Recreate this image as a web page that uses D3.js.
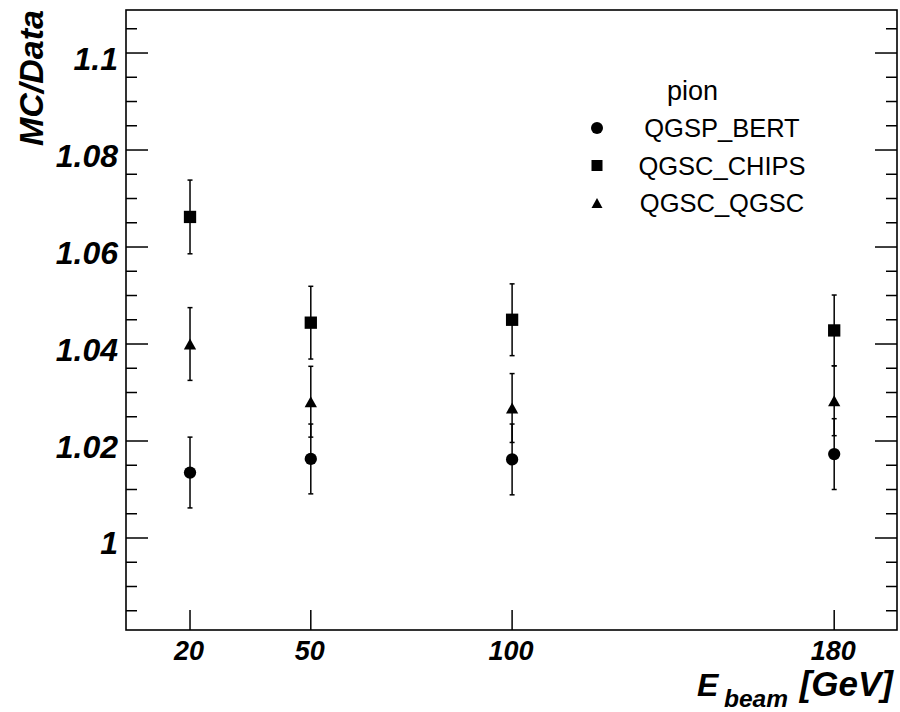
<!DOCTYPE html>
<html>
<head>
<meta charset="utf-8">
<script src="https://cdn.jsdelivr.net/npm/d3@7"></script>
<style>
  html, body { margin: 0; padding: 0; background: #fff; }
  svg { display: block; }
  text { font-family: "Liberation Sans", Arial, Helvetica, sans-serif; fill: #000; }
</style>
</head>
<body>
<svg id="chart" width="900" height="712"></svg>
<script>
// ---- data ----
const energies = [20, 50, 100, 180];
const xTickLabels = ["20", "50", "100", "180"];
const seriesNames = ["QGSP_BERT", "QGSC_CHIPS", "QGSC_QGSC"];
const seriesMarkers = ["circle", "square", "triangle"];
const bertValues  = [1.0135, 1.0163, 1.0162, 1.0173];
const bertErrors  = [0.0073, 0.0072, 0.0073, 0.0073];
const chipsValues = [1.0662, 1.0444, 1.0450, 1.0428];
const chipsErrors = [0.0076, 0.0075, 0.0074, 0.0073];
const qgscValues  = [1.0400, 1.0281, 1.0268, 1.0283];
const qgscErrors  = [0.0075, 0.0073, 0.0071, 0.0072];
const yTickLabels = ["1", "1.02", "1.04", "1.06", "1.08", "1.1"];
const legendTitle = "pion";

const seriesValues = [bertValues, chipsValues, qgscValues];
const seriesErrors = [bertErrors, chipsErrors, qgscErrors];

// ---- layout ----
const L = 126, R = 897, T = 10, B = 630;
const svg = d3.select("#chart");

const x = d3.scaleLinear().domain([4.1, 195.6]).range([L, R]);
const y = d3.scaleLinear().domain([0.98103, 1.10887]).range([B, T]);

// frame
svg.append("rect").attr("x", L).attr("y", T).attr("width", R - L).attr("height", B - T)
  .attr("fill", "none").attr("stroke", "#000").attr("stroke-width", 1.6);

// y ticks (major every 0.02, minor every 0.005), left and right
const majorY = yTickLabels.map(Number);
const minorY = d3.range(0.985, 1.1089, 0.005).map(v => +v.toFixed(3));
const ticksG = svg.append("g").attr("stroke", "#000").attr("stroke-width", 1.5);
minorY.forEach(v => {
  const isMajor = majorY.some(m => Math.abs(m - v) < 1e-6);
  const len = isMajor ? 22 : 11;
  ticksG.append("line").attr("x1", L).attr("x2", L + len).attr("y1", y(v)).attr("y2", y(v));
  ticksG.append("line").attr("x1", R).attr("x2", R - len).attr("y1", y(v)).attr("y2", y(v));
});
// x ticks at bottom
energies.forEach(e => {
  ticksG.append("line").attr("x1", x(e)).attr("x2", x(e)).attr("y1", B).attr("y2", B - 20);
});

// y tick labels
yTickLabels.forEach(t => {
  svg.append("text").attr("x", L - 8).attr("y", y(+t) + 16.5)
    .attr("text-anchor", "end").attr("font-size", 32).attr("font-weight", "bold")
    .attr("font-style", "italic").text(t);
});
// x tick labels
energies.forEach((e, i) => {
  svg.append("text").attr("x", x(e) - 1).attr("y", B + 30)
    .attr("text-anchor", "middle").attr("font-size", 27).attr("font-weight", "bold")
    .attr("font-style", "italic").text(xTickLabels[i]);
});

// axis titles
svg.append("text").attr("transform", `translate(43,${T}) rotate(-90)`)
  .attr("text-anchor", "end").attr("font-size", 34).attr("font-weight", "bold")
  .attr("font-style", "italic").text("MC/Data");

const titleAttrs = s => s.attr("font-weight", "bold").attr("font-style", "italic");
svg.append("text").attr("x", 697).attr("y", 696).attr("font-size", 32).call(titleAttrs).text("E");
svg.append("text").attr("x", 724).attr("y", 707).attr("font-size", 24.5).call(titleAttrs).text("beam");
svg.append("text").attr("x", 893).attr("y", 696).attr("font-size", 35).attr("text-anchor", "end")
  .call(titleAttrs).text("[GeV]");

// markers
function drawMarker(g, type, cx, cy, s) {
  if (type === "circle") {
    g.append("circle").attr("cx", cx).attr("cy", cy).attr("r", s / 2).attr("fill", "#000");
  } else if (type === "square") {
    g.append("rect").attr("x", cx - s / 2).attr("y", cy - s / 2).attr("width", s).attr("height", s).attr("fill", "#000");
  } else {
    const h = s * 0.9;
    g.append("path").attr("d", `M${cx},${cy - h / 2} L${cx + s / 2},${cy + h / 2} L${cx - s / 2},${cy + h / 2} Z`).attr("fill", "#000");
  }
}

const dataG = svg.append("g");
seriesValues.forEach((vals, si) => {
  const errs = seriesErrors[si];
  vals.forEach((v, i) => {
    const cx = x(energies[i]);
    const y1 = y(v + errs[i]), y0 = y(v - errs[i]);
    dataG.append("line").attr("x1", cx).attr("x2", cx).attr("y1", y1).attr("y2", y0)
      .attr("stroke", "#000").attr("stroke-width", 1.5);
    [y1, y0].forEach(yy => dataG.append("line").attr("x1", cx - 2.5).attr("x2", cx + 2.5)
      .attr("y1", yy).attr("y2", yy).attr("stroke", "#000").attr("stroke-width", 1.5));
  });
});
seriesValues.forEach((vals, si) => {
  vals.forEach((v, i) => drawMarker(dataG, seriesMarkers[si], x(energies[i]), y(v), 12.3));
});

// legend
svg.append("text").attr("x", 667).attr("y", 100).attr("font-size", 27).text(legendTitle);
seriesNames.forEach((n, i) => {
  const ly = 128 + i * 37.5;
  drawMarker(svg, seriesMarkers[i], 597, ly, i === 0 ? 12 : 11);
  svg.append("text").attr("x", 722).attr("y", ly + 9).attr("text-anchor", "middle")
    .attr("font-size", 25.5).text(n);
});
</script>
</body>
</html>
